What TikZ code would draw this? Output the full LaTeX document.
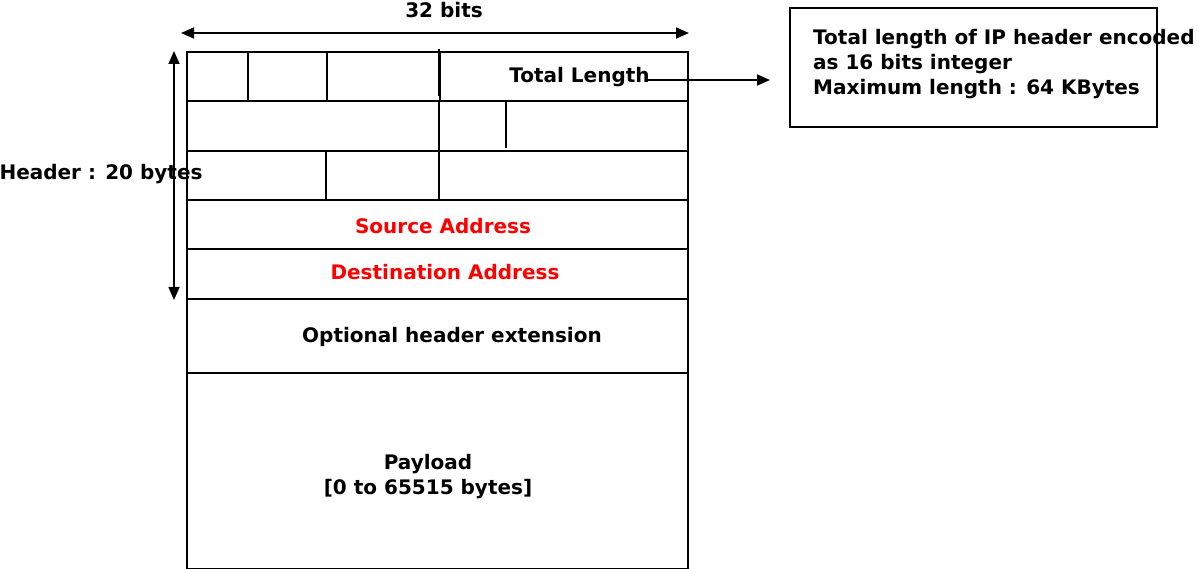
\documentclass[tikz,border=0pt]{standalone}
\usepackage{fontspec}
\setmainfont{DejaVu Sans}
\usetikzlibrary{arrows.meta}
\begin{document}
\begin{tikzpicture}[x=1pt,y=-1pt,
  line/.style={line width=1.8pt},
  cell/.style={draw,line width=1.8pt,rectangle,inner sep=0pt,anchor=north west},
  lbl/.style={font=\fontsize{20}{25}\selectfont\bfseries,inner sep=0pt},
  dim/.style={line width=1.6pt,{Triangle[length=13pt,width=11pt]}-{Triangle[length=13pt,width=11pt]}},
  arr/.style={line width=1.6pt,-{Triangle[length=13pt,width=11pt]}}]
\useasboundingbox (0,0) rectangle (1200,569);
% rows of the header
\node[cell,minimum width=501pt,minimum height=49pt] (r1) at (186,51) {};
\node[cell,minimum width=501pt,minimum height=50pt] (r2) at (186,100) {};
\node[cell,minimum width=501pt,minimum height=49pt] (r3) at (186,150) {};
\node[cell,minimum width=501pt,minimum height=49pt] (r4) at (186,199) {};
\node[cell,minimum width=501pt,minimum height=50pt] (r5) at (186,248) {};
\node[cell,minimum width=501pt,minimum height=74pt] (r6) at (186,298) {};
\node[cell,minimum width=501pt,minimum height=196pt] (r7) at (186,372) {};
% total length cell
\node[cell,line width=2.3pt,minimum width=248pt,minimum height=49pt] (tlc) at (439,51) {};
% dividers
\coordinate (d1a) at (248,51); \coordinate (d1b) at (248,100);
\coordinate (d2a) at (327,51); \coordinate (d2b) at (327,100);
\coordinate (d3a) at (439,49); \coordinate (d3b) at (439,96);
\coordinate (d4a) at (439,100); \coordinate (d4b) at (439,150);
\coordinate (d5a) at (506,100); \coordinate (d5b) at (506,148);
\coordinate (d6a) at (326,152); \coordinate (d6b) at (326,199);
\coordinate (d7a) at (439,150); \coordinate (d7b) at (439,199);
\draw[line] (d1a) -- (d1b);
\draw[line] (d2a) -- (d2b);
\draw[line,line width=2.3pt] (d3a) -- (d3b);
\draw[line] (d4a) -- (d4b);
\draw[line] (d5a) -- (d5b);
\draw[line] (d6a) -- (d6b);
\draw[line] (d7a) -- (d7b);
% dimension arrows
\coordinate (wl) at (181,33); \coordinate (wr) at (689,33);
\draw[dim] (wl) -- (wr);
\node[lbl] (bits) at (444,10) {32 bits};
\coordinate (ht) at (174,51); \coordinate (hb) at (174,300);
\draw[dim] (ht) -- (hb);
% labels
\node[lbl] (tl) at (579.5,77) {Total Length};
\node[lbl,text=red] (src) at (443,226) {Source Address};
\node[lbl,text=red] (dst) at (445,272) {Destination Address};
\node[lbl] (opt) at (452,337) {Optional header extension};
\node[lbl,align=center] (pay) at (428,477) {Payload\\{[0 to 65515 bytes]}};
% note box
\node[cell,minimum width=367pt,minimum height=119pt] (note) at (789,7) {};
\node[lbl,align=left,anchor=west] (notetxt) at (813,64) {Total length of IP header encoded\\as 16 bits integer\\Maximum length : 64 KBytes};
\coordinate (as) at (645,80); \coordinate (ae) at (770,80);
\draw[arr] (as) -- (ae);
\node[lbl] (hdr) at (101,174) {Header : 20 bytes};
\end{tikzpicture}
\end{document}
